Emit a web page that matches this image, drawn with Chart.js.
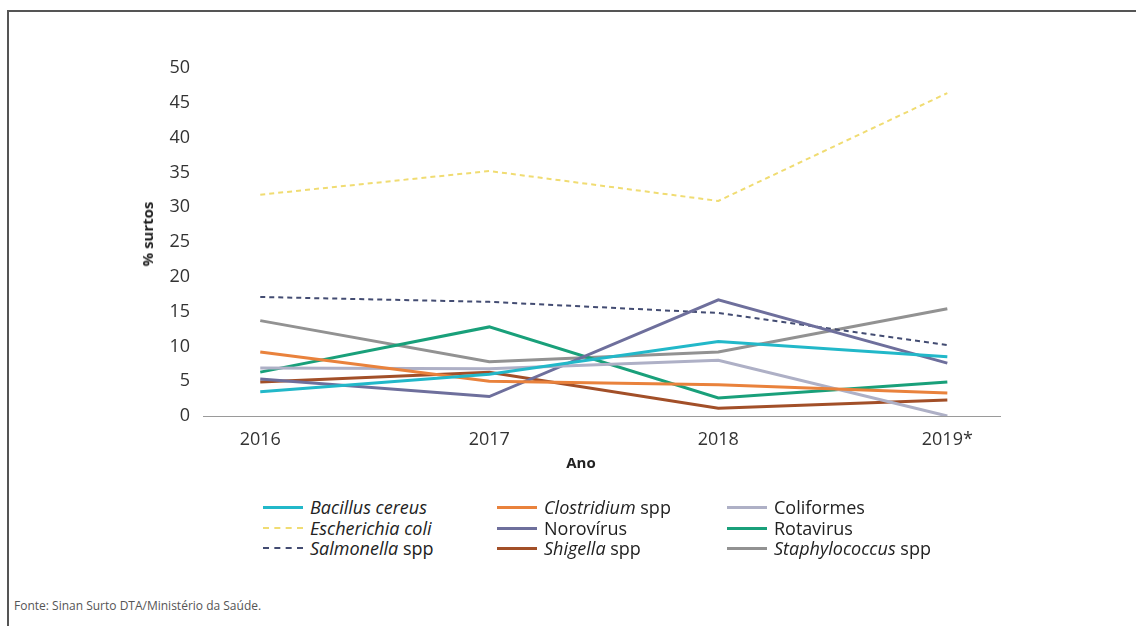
<!DOCTYPE html>
<html>
<head>
<meta charset="utf-8">
<script src="https://cdn.jsdelivr.net/npm/chart.js@4"></script>
<style>
  body { margin: 0; background: #fff; font-family: 'Open Sans', sans-serif; }
  #wrap { position: relative; width: 1139px; height: 626px; overflow: hidden; }
  #frameTop { position: absolute; left: 7px; top: 10px; width: 1129px; height: 2px; background: #555; }
  #frameLeft { position: absolute; left: 7px; top: 10px; width: 2px; height: 616px; background: #555; }
  #box { position: absolute; left: 0; top: 0; width: 1139px; height: 470px; }
  .axisTitle { position: absolute; font-weight: 700; font-size: 15px; color: #222; }
  #yTitle { left: 147px; top: 234px; transform: translate(-50%, -50%) rotate(-90deg); white-space: nowrap; }
  #xTitle { left: 581px; top: 462px; transform: translate(-50%, -50%); }
  #legend { position: absolute; left: 0; top: 0; }
  .item { position: absolute; display: flex; align-items: center; font-size: 18px; color: #222; white-space: nowrap; transform: translateY(-50%); }
  .swatch { width: 40px; height: 0; margin-right: 7px; }
  #source { position: absolute; left: 14px; top: 597px; font-size: 12px; color: #555; }
</style>
</head>
<body>
<div id="wrap">
  <div id="frameTop"></div>
  <div id="frameLeft"></div>
  <div id="box"><canvas id="surtosChart"></canvas></div>
  <div class="axisTitle" id="yTitle">% surtos</div>
  <div class="axisTitle" id="xTitle">Ano</div>
  <div id="legend"></div>
  <div id="source">Fonte: Sinan Surto DTA/Ministério da Saúde.</div>
</div>
<script>
const years = ['2016', '2017', '2018', '2019*'];
const yTicks = [0, 5, 10, 15, 20, 25, 30, 35, 40, 45, 50];

const agentes = [
  'Bacillus cereus', 'Clostridium spp', 'Coliformes',
  'Escherichia coli', 'Norovírus', 'Rotavirus',
  'Salmonella spp', 'Shigella spp', 'Staphylococcus spp',
];
// parte do nome em itálico na legenda
const italico = [
  'Bacillus cereus', 'Clostridium', '',
  'Escherichia coli', '', '',
  'Salmonella', 'Shigella', 'Staphylococcus',
];

const bacillus = [3.5, 6.0, 10.7, 8.5];
const clostridium = [9.2, 5.0, 4.5, 3.3];
const coliformes = [6.9, 6.8, 8.0, 0];
const escherichia = [31.8, 35.2, 30.9, 46.4];
const norovirus = [5.3, 2.8, 16.7, 7.6];
const rotavirus = [6.3, 12.8, 2.6, 4.9];
const salmonella = [17.1, 16.4, 14.8, 10.2];
const shigella = [4.9, 6.3, 1.1, 2.3];
const staphylococcus = [13.7, 7.8, 9.2, 15.4];

const valores = [bacillus, clostridium, coliformes, escherichia, norovirus, rotavirus, salmonella, shigella, staphylococcus];
const cores = ['#22b8c9', '#e9823c', '#aeb0c6', '#f0dc72', '#6e6f9c', '#19a07a', '#434c72', '#a24f28', '#929292'];
const tracos = [[], [], [], [5, 4], [], [], [5, 4], [], []];

const datasets = agentes.map((nome, i) => ({
  label: nome,
  data: valores[i].map((v, j) => ({ x: j, y: v })),
  borderColor: cores[i],
  backgroundColor: cores[i],
  borderWidth: tracos[i].length ? 2 : 3,
  borderDash: tracos[i],
  pointRadius: 0,
  tension: 0,
  fill: false,
}));

new Chart(document.getElementById('surtosChart'), {
  type: 'line',
  data: { datasets },
  options: {
    responsive: true,
    maintainAspectRatio: false,
    animation: false,
    layout: { padding: { left: 0, top: 68, right: 139, bottom: 0 } },
    plugins: { legend: { display: false }, tooltip: { enabled: false } },
    scales: {
      x: {
        type: 'linear',
        min: -0.25,
        max: 3.23,
        afterBuildTicks: (scale) => { scale.ticks = years.map((_, i) => ({ value: i })); },
        afterFit: (scale) => { scale.height = 54; },
        grid: { display: false, drawTicks: false },
        border: { display: true, color: '#9a9a9a', width: 1 },
        ticks: {
          padding: 13,
          maxRotation: 0,
          font: { family: 'Open Sans', size: 18 },
          color: '#333',
          callback: (v) => years[v] ?? '',
        },
      },
      y: {
        min: 0,
        max: 50,
        afterBuildTicks: (scale) => { scale.ticks = yTicks.map((v) => ({ value: v })); },
        afterFit: (scale) => { scale.width = 203; },
        grid: { display: false, drawTicks: false },
        border: { display: false },
        ticks: {
          padding: 13,
          font: { family: 'Open Sans', size: 18 },
          color: '#333',
        },
      },
    },
  },
});

// legenda em 3 colunas
const colX = [263, 497, 727];
const rowY = [507, 528, 548];
const legend = document.getElementById('legend');
agentes.map((nome, i) => {
  const item = document.createElement('div');
  item.className = 'item';
  item.style.left = colX[i % 3] + 'px';
  item.style.top = rowY[Math.floor(i / 3)] + 'px';
  const sw = document.createElement('span');
  sw.className = 'swatch';
  sw.style.borderTop = (tracos[i].length ? '2px dashed ' : '3px solid ') + cores[i];
  item.appendChild(sw);
  const txt = document.createElement('span');
  const it = italico[i];
  if (it) {
    const em = document.createElement('i');
    em.textContent = it;
    txt.appendChild(em);
    txt.appendChild(document.createTextNode(nome.slice(it.length)));
  } else {
    txt.textContent = nome;
  }
  item.appendChild(txt);
  legend.appendChild(item);
});
</script>
</body>
</html>
